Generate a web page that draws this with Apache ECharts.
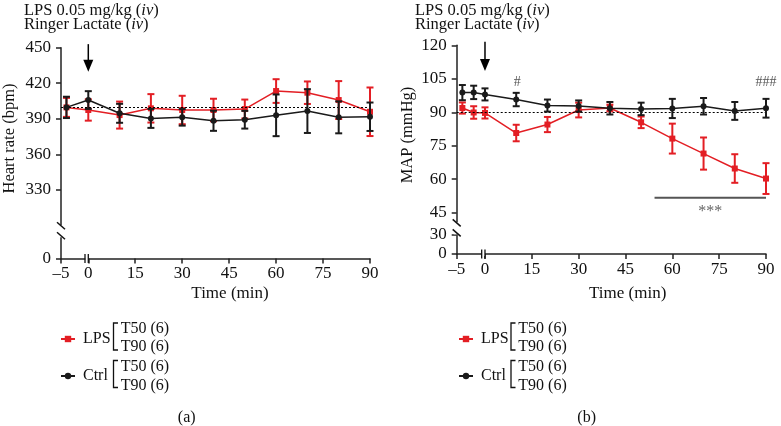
<!DOCTYPE html>
<html><head><meta charset="utf-8">
<script src="https://cdn.jsdelivr.net/npm/echarts@6/dist/echarts.min.js"></script>
<style>html,body{margin:0;padding:0;background:#fff}#c{width:781px;height:426px}</style>
</head><body><div id="c"></div>
<script>
// ---------- data ----------
const timesHR = [-4, 0, 10, 20, 30, 40, 50, 60, 70, 80, 90];
const hrLPS = [399.6, 397.4, 393.1, 398.8, 397.4, 397.4, 398.2, 413.4, 412.0, 405.8, 395.9];
const hrLPSerr = [8, 9, 11.4, 12, 12, 9.5, 8, 10, 9.5, 16, 20.5];
const hrCtrl = [399.6, 405.8, 394.6, 390.3, 391.2, 388.3, 389.2, 392.9, 396.5, 391.2, 391.7];
const hrCtrlErr = [9, 7.5, 8, 8, 7, 8.5, 7.5, 17.6, 18.5, 13.5, 12];

const timesMAP = [-4, -2, 0, 10, 20, 30, 40, 50, 60, 70, 80, 90];
const mapLPS = [91.9, 89.9, 89.7, 80.7, 84.5, 91.0, 91.9, 85.5, 78.2, 71.5, 64.8, 60.3];
const mapLPSerr = [2.5, 2.8, 2.5, 3.7, 3.4, 3.3, 1.5, 2.6, 6.7, 7.2, 6.4, 6.9];
const mapCtrl = [98.8, 98.9, 98.0, 95.7, 93.0, 92.8, 91.8, 91.5, 91.7, 92.7, 90.6, 91.8];
const mapCtrlErr = [3.4, 3, 2.7, 3, 2.7, 2.5, 2.8, 2.8, 4.3, 3.7, 4, 4.2];

const xTicks = [-5, 0, 15, 30, 45, 60, 75, 90];
const hrTicks = [0, 330, 360, 390, 420, 450];
const mapTicks = [0, 30, 45, 60, 75, 90, 105, 120];
const hrRef = 400, mapRef = 90;
const sigRange = [54.3, 90], sigLevel = 51.7;

// ---------- axis breaks (scale transforms) ----------
const xPreL = 8.72 / 5, xPreR = 9.06 / 5;
const xl = t => t < 0 ? t * xPreL : t;
const xr = t => t < 0 ? t * xPreR : t;
const hy = v => v < 300 ? 272 + v : v;
const my = v => v < 45 ? 26.5 + v * (35 - 26.5) / 30 : v;

const RED = '#e31e24', BLK = '#1a1a1a', AX = '#222';
const FONT = 'Liberation Serif';

function labelMap(ticks, f) { const m = {}; ticks.forEach(t => m[f(t).toFixed(4)] = t); return m; }
const xlMap = labelMap(xTicks, xl), xrMap = labelMap(xTicks, xr);
const hyMap = labelMap(hrTicks, hy), myMap = labelMap(mapTicks, my);
const fmt = m => v => { const t = m[(+v).toFixed(4)]; return t === undefined ? '' : (t < 0 ? '\u2013' + (-t) : String(t)); };

function xAxisDef(gi, f, m) {
  const cv = xTicks.map(f);
  return {
    type: 'value', gridIndex: gi, min: f(-5), max: 90,
    axisLine: { onZero: false, lineStyle: { color: AX, width: 1.5 } },
    axisTick: { customValues: cv, length: 5, lineStyle: { color: AX, width: 1.5 } },
    axisLabel: { customValues: cv, formatter: fmt(m), color: '#111', fontFamily: FONT, fontSize: 17, margin: 7 },
    splitLine: { show: false }
  };
}
function yAxisDef(gi, ticks, f, m, max) {
  const cv = ticks.map(f);
  return {
    type: 'value', gridIndex: gi, min: f(0), max: max,
    axisLine: { show: true, onZero: false, lineStyle: { color: AX, width: 1.5 } },
    axisTick: { show: true, customValues: cv, length: 5, lineStyle: { color: AX, width: 1.5 } },
    axisLabel: { customValues: cv, formatter: fmt(m), color: '#111', fontFamily: FONT, fontSize: 17, margin: 10 },
    splitLine: { show: false }
  };
}

function errRender(color) {
  return function (params, api) {
    const x = api.value(0), y = api.value(1), e = api.value(2);
    const t = api.coord([x, y + e]), b = api.coord([x, y - e]);
    const w = 3.5, st = { stroke: color, lineWidth: 2 };
    return { type: 'group', children: [
      { type: 'line', shape: { x1: t[0], y1: t[1], x2: b[0], y2: b[1] }, style: st },
      { type: 'line', shape: { x1: t[0] - w, y1: t[1], x2: t[0] + w, y2: t[1] }, style: st },
      { type: 'line', shape: { x1: b[0] - w, y1: b[1], x2: b[0] + w, y2: b[1] }, style: st }
    ] };
  };
}
function lineSeries(name, gi, xs, ys, color, symbol, z, extra) {
  return Object.assign({
    name: name, type: 'line', xAxisIndex: gi, yAxisIndex: gi,
    data: xs.map((t, i) => [t, ys[i]]), symbol: symbol, symbolSize: 6,
    itemStyle: { color: color }, lineStyle: { color: color, width: 1.5 }, z: z, animation: false
  }, extra || {});
}
function errSeries(name, gi, xs, ys, es, color, z) {
  return { name: name, type: 'custom', xAxisIndex: gi, yAxisIndex: gi, renderItem: errRender(color),
    data: xs.map((t, i) => [t, ys[i], es[i]]), encode: { x: 0, y: 1 }, z: z, clip: false, animation: false };
}
function refLine(v) {
  return { silent: true, symbol: 'none', label: { show: false },
    lineStyle: { color: '#000', type: [2, 2], width: 1.2 }, data: [{ yAxis: v }], animation: false };
}

const hrX = timesHR.map(xl), mapX = timesMAP.map(xr);
const legendDef = left => ({ data: ['LPS', 'Ctrl'], orient: 'vertical', left: left, top: 331, padding: 0,
  itemWidth: 14, itemHeight: 8, itemGap: 21, selectedMode: false,
  textStyle: { fontFamily: FONT, fontSize: 16, color: '#111', lineHeight: 16, padding: [0, 0, 0, 3] } });

const option = {
  animation: false,
  textStyle: { fontFamily: FONT },
  grid: [
    { left: 61, top: 47.7, width: 309, height: 210.8 },
    { left: 456.7, top: 45.3, width: 309.3, height: 208.7 }
  ],
  xAxis: [xAxisDef(0, xl, xlMap), xAxisDef(1, xr, xrMap)],
  yAxis: [yAxisDef(0, hrTicks, hy, hyMap, 450), yAxisDef(1, mapTicks, my, myMap, 120)],
  legend: [legendDef(60), legendDef(458)],
  series: [
    lineSeries('LPS', 0, hrX, hrLPS, RED, 'rect', 3),
    errSeries('LPS err', 0, hrX, hrLPS, hrLPSerr, RED, 3),
    lineSeries('Ctrl', 0, hrX, hrCtrl, BLK, 'circle', 5, { markLine: refLine(hrRef) }),
    errSeries('Ctrl err', 0, hrX, hrCtrl, hrCtrlErr, BLK, 5),
    lineSeries('LPS', 1, mapX, mapLPS, RED, 'rect', 3),
    errSeries('LPS err2', 1, mapX, mapLPS, mapLPSerr, RED, 3),
    lineSeries('Ctrl', 1, mapX, mapCtrl, BLK, 'circle', 5, { markLine: refLine(mapRef) }),
    errSeries('Ctrl err2', 1, mapX, mapCtrl, mapCtrlErr, BLK, 5)
  ]
};

const chart = echarts.init(document.getElementById('c'), null, { renderer: 'canvas' });
chart.setOption(option);

// ---------- decorations placed through the axes ----------
const P = (gi, x, y) => chart.convertToPixel({ gridIndex: gi }, [x, y]);
const G = [];
const txt = (x, y, text, o) => G.push(Object.assign({ type: 'text', x: x, y: y, z: 100,
  style: Object.assign({ text: text, font: '16px "' + FONT + '"', fill: '#111', textAlign: 'left', textVerticalAlign: 'middle' }, (o && o.style) || {}) },
  o && o.rotation ? { rotation: o.rotation } : {}));
const ln = (x1, y1, x2, y2, c, w) => G.push({ type: 'line', z: 100, shape: { x1, y1, x2, y2 }, style: { stroke: c || '#111', lineWidth: w || 1.5 } });
const rect = (x, y, w, h) => G.push({ type: 'rect', z: 99, shape: { x, y, width: w, height: h }, style: { fill: '#fff' } });

function yBreak(gi, v) {
  const p = P(gi, gi === 0 ? xl(-5) : xr(-5), v);
  const ax = p[0], cy = p[1];
  rect(ax - 3, cy - 6, 6, 12);
  ln(ax - 4, cy - 9, ax + 4, cy - 2);
  ln(ax - 4, cy + 1, ax + 4, cy + 8);
}
function xBreak(gi) {
  const p = P(gi, 0, gi === 0 ? hy(0) : my(0));
  rect(p[0] - 3, p[1] - 2, 3, 4);
  ln(p[0] - 3.3, p[1] - 4.5, p[0] - 3.3, p[1] + 4.5, '#111', 1.3);
  ln(p[0], p[1] - 4.5, p[0], p[1] + 4.5, '#111', 1.3);
}
yBreak(0, 295); yBreak(1, 38);
xBreak(0); xBreak(1);

// injection arrows at t = 0
function arrow(gi, yTop, yTip) {
  const a = P(gi, 0, yTop), b = P(gi, 0, yTip);
  ln(a[0], a[1], b[0], b[1] - 10, '#000', 1.5);
  G.push({ type: 'polygon', z: 100, shape: { points: [[b[0] - 5, b[1] - 12], [b[0] + 5, b[1] - 12], [b[0], b[1]]] }, style: { fill: '#000' } });
}
arrow(0, 453, 429.7);
arrow(1, 121.6, 108.5);

// significance annotations (panel b)
const s1 = P(1, sigRange[0], sigLevel), s2 = P(1, sigRange[1], sigLevel);
ln(s1[0], s1[1], s2[0], s2[1], '#555', 2);
const st = P(1, (sigRange[0] + sigRange[1]) / 2, 45.8);
txt(st[0], st[1] + 1, '***', { style: { fill: '#666', textAlign: 'center', font: '16px "' + FONT + '"' } });
const h1 = P(1, 10, 103.3);
txt(h1[0] + 1, h1[1], '#', { style: { fill: '#555', textAlign: 'center', font: '14px "' + FONT + '"' } });
const h3 = P(1, 86.6, 103.3);
txt(h3[0], h3[1], '###', { style: { fill: '#555', textAlign: 'left', font: '14px "' + FONT + '"' } });

// titles
const rich = { n: { fontFamily: FONT, fontSize: 16.5, fill: '#111' }, i: { fontFamily: FONT, fontSize: 16.5, fontStyle: 'italic', fill: '#111' } };
[24, 415].forEach(x => {
  G.push({ type: 'text', x: x, y: 11, z: 100, style: { text: '{n|LPS 0.05 mg/kg (}{i|iv}{n|)}', rich: rich, textVerticalAlign: 'middle' } });
  G.push({ type: 'text', x: x, y: 25, z: 100, style: { text: '{n|Ringer Lactate (}{i|iv}{n|)}', rich: rich, textVerticalAlign: 'middle' } });
});

// axis names
txt(10, 138.5, 'Heart rate (bpm)', { rotation: Math.PI / 2, style: { textAlign: 'center', font: '16.5px "' + FONT + '"' } });
txt(408, 135, 'MAP (mmHg)', { rotation: Math.PI / 2, style: { textAlign: 'center', font: '16.5px "' + FONT + '"' } });
txt(230, 293.5, 'Time (min)', { style: { textAlign: 'center', font: '17px "' + FONT + '"' } });
txt(627.7, 293.5, 'Time (min)', { style: { textAlign: 'center', font: '17px "' + FONT + '"' } });

// legend brackets and group labels
function bracket(x, yTop, yBot) {
  G.push({ type: 'polyline', z: 100, shape: { points: [[x + 4.5, yTop], [x, yTop], [x, yBot], [x + 4.5, yBot]] }, style: { stroke: '#111', lineWidth: 1.3, fill: null } });
}
[[113.5, 120.7], [511, 518.3]].forEach(([bx, tx]) => {
  bracket(bx, 323, 350); bracket(bx, 360.5, 387.5);
  txt(tx, 328.5, 'T50 (6)'); txt(tx, 346.5, 'T90 (6)');
  txt(tx, 366.5, 'T50 (6)'); txt(tx, 385.5, 'T90 (6)');
});
txt(186.7, 418, '(a)', { style: { textAlign: 'center' } });
txt(586.7, 418, '(b)', { style: { textAlign: 'center' } });

chart.setOption({ graphic: G });
</script></body></html>
